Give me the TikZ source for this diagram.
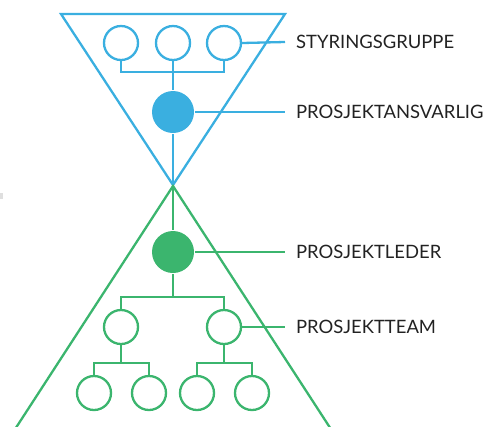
\documentclass[tikz,border=0pt]{standalone}
\usepackage{fontspec}
\setmainfont{Lato}
\definecolor{skyblue}{HTML}{3AAFE0}
\definecolor{leafgreen}{HTML}{3BB56E}
\definecolor{labelgray}{HTML}{222222}

\tikzset{
    member/.style={circle, draw, fill=white, minimum size=34bp, inner sep=0pt},
    leader/.style={circle, fill, minimum size=42bp, inner sep=0pt},
    role/.style={anchor=west, inner sep=0pt, text=labelgray,
        font=\fontsize{18.5}{19}\selectfont},
}

\begin{document}
\begin{tikzpicture}[x=1bp, y=-1bp, line width=2.3bp]
    \useasboundingbox (0,0) rectangle (486,426);
    \clip (0,0) rectangle (486,426);
    \fill[gray!25] (0,193) rectangle (3,199);

    % top: blue triangle
    \begin{scope}[skyblue]
        \draw (61,14) -- (285,14) -- (173,185) -- cycle;
        \coordinate (apex) at (173,185);
        \coordinate (sbus) at (173,72);

        \foreach \i/\x in {1/121, 2/173, 3/224} {
            \node[member] (s\i) at (\x,43) {};
        }
        \node[leader] (pa) at (173,112) {};

        \draw (s1.south) |- (sbus) -| (s3.south);
        \draw (s2) -- (pa);
        \draw (pa) -- (apex);
    \end{scope}

    % bottom: green triangle
    \begin{scope}[leafgreen]
        \draw (8,440) -- (173,186) -- (338,440);
        \coordinate (tbus) at (173,297);
        \coordinate (lbus) at (121,363);
        \coordinate (rbus) at (224,363);

        \node[leader] (pl) at (173,252) {};
        \node[member] (t1) at (121,327) {};
        \node[member] (t2) at (224,327) {};
        \foreach \i/\x in {1/94, 2/149, 3/197, 4/252} {
            \node[member] (m\i) at (\x,393) {};
        }

        \draw (apex) -- (pl);
        \draw (pl) -- (tbus);
        \draw (t1.north) |- (tbus) -| (t2.north);
        \draw (t1) -- (lbus);
        \draw (m1.north) |- (lbus) -| (m2.north);
        \draw (t2) -- (rbus);
        \draw (m3.north) |- (rbus) -| (m4.north);
    \end{scope}

    % labels
    \node[role] (sg) at (295,42) {STYRINGSGRUPPE};
    \node[role] (pr) at (295,112) {PROSJEKTANSVARLIG};
    \node[role] (ld) at (295,252) {PROSJEKTLEDER};
    \node[role] (tm) at (295,327) {PROSJEKTTEAM};

    \draw[skyblue] (s3.east) -- ([xshift=-10bp]sg.west);
    \draw[skyblue] (pa.east) -- ([xshift=-10bp]pr.west);
    \draw[leafgreen] (pl.east) -- ([xshift=-10bp]ld.west);
    \draw[leafgreen] (t2.east) -- ([xshift=-10bp]tm.west);
\end{tikzpicture}
\end{document}
